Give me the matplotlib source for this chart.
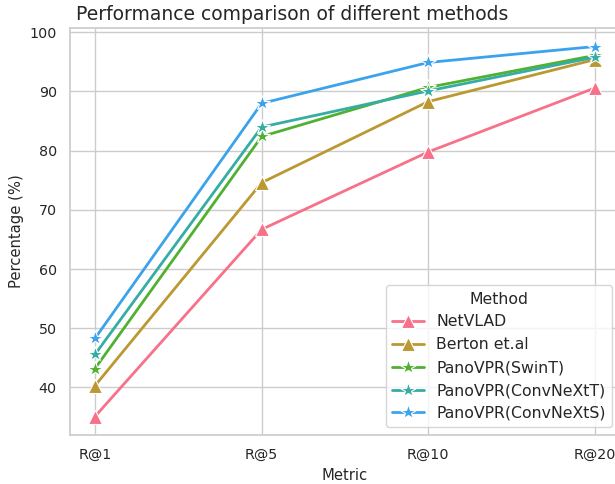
import matplotlib
matplotlib.use("Agg")
import matplotlib.pyplot as plt
import seaborn as sns

metrics = ["R@1", "R@5", "R@10", "R@20"]
methods = ["NetVLAD", "Berton et.al", "PanoVPR(SwinT)", "PanoVPR(ConvNeXtT)", "PanoVPR(ConvNeXtS)"]
netvlad = [35.1, 66.7, 79.8, 90.6]
berton = [40.3, 74.6, 88.3, 95.4]
swint = [43.2, 82.4, 90.7, 96.1]
convnextt = [45.6, 84.0, 90.1, 95.8]
convnexts = [48.3, 88.0, 94.9, 97.6]
series = [netvlad, berton, swint, convnextt, convnexts]
markers = ["^", "^", "*", "*", "*"]

sns.set_theme(style="whitegrid")
plt.rcParams['font.family'] = ['DejaVu Sans']
colors = sns.color_palette("husl", 6)[:5]

fig = plt.figure(figsize=(6.15, 4.84), dpi=100)
ax = fig.add_axes([70/615, 49/484, 550/615, 407/484])
x = list(range(len(metrics)))
for name, vals, mk, c in zip(methods, series, markers, colors):
    ms = 10.5 if mk == "^" else 11.5
    ax.plot(x, vals, marker=mk, color=c, label=name, linewidth=2,
            markersize=ms, markeredgecolor="white", markeredgewidth=0.8)
ax.set_xticks(x)
ax.set_xticklabels(metrics)
ax.margins(x=0.05)
ax.set_xlabel("Metric", fontsize=10.6)
ax.set_ylabel("Percentage (%)", fontsize=10.6)
ax.tick_params(labelsize=10.3)
fig.text(292/615, 1 - 14/484, "Performance comparison of different methods",
         ha="center", va="center", fontsize=13.5, color="#262626")
leg = ax.legend(title="Method", loc="lower right", fontsize=11.3, title_fontsize=11.3)
fig.savefig("out.png", dpi=100)
